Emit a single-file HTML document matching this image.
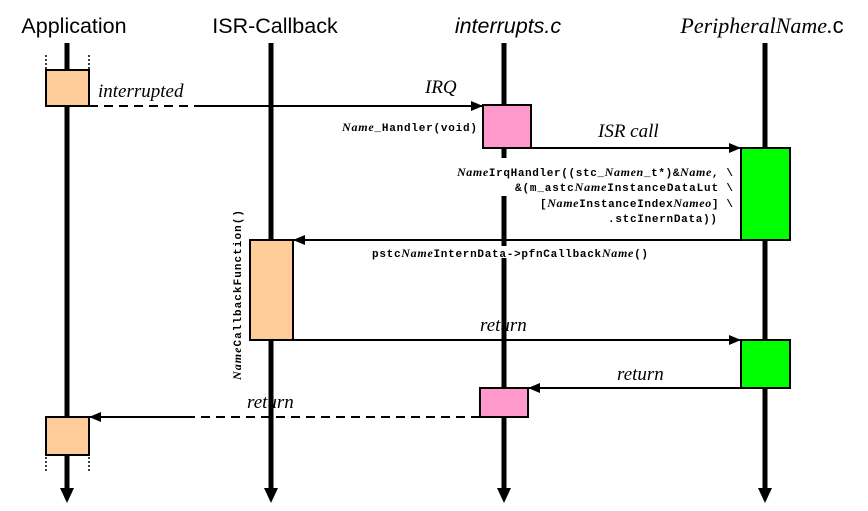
<!DOCTYPE html>
<html><head><meta charset="utf-8"><style>
html,body{margin:0;padding:0;background:#fff;}
svg{display:block;}
.t{font-family:"Liberation Sans",sans-serif;font-size:21.5px;}
.s{font-family:"Liberation Serif",serif;font-style:italic;font-size:19px;}
.m{font-family:"Liberation Mono",monospace;font-weight:bold;font-size:11px;}
.mi{font-family:"Liberation Serif",serif;font-style:italic;font-weight:bold;font-size:12px;}
</style></head><body>
<svg width="868" height="511" viewBox="0 0 868 511" xmlns="http://www.w3.org/2000/svg">
<defs>
<marker id="a" markerWidth="12" markerHeight="10" refX="12" refY="5" orient="auto" markerUnits="userSpaceOnUse"><path d="M0,0 L12,5 L0,10 Z" fill="#000"/></marker>
</defs>
<text class="t" x="74" y="33" text-anchor="middle">Application</text>
<text class="t" x="275" y="33" text-anchor="middle">ISR-Callback</text>
<text class="t" x="508" y="33" text-anchor="middle" font-style="italic">interrupts.c</text>
<text x="762" y="33" text-anchor="middle" font-size="22"><tspan font-family="Liberation Serif, serif" font-style="italic">PeripheralName.</tspan><tspan font-family="Liberation Sans, sans-serif">c</tspan></text>
<g stroke="#000" stroke-width="5" fill="none">
<line x1="67" y1="43" x2="67" y2="492"/>
<line x1="271" y1="43" x2="271" y2="492"/>
<line x1="504" y1="43" x2="504" y2="492"/>
<line x1="765" y1="43" x2="765" y2="492"/>
</g>
<g fill="#000">
<path d="M60,488 L74,488 L67,503 Z"/>
<path d="M264,488 L278,488 L271,503 Z"/>
<path d="M497,488 L511,488 L504,503 Z"/>
<path d="M758,488 L772,488 L765,503 Z"/>
</g>
<g stroke="#000" stroke-width="1.5" stroke-dasharray="2,2">
<line x1="46" y1="55" x2="46" y2="69"/><line x1="89" y1="55" x2="89" y2="69"/>
<line x1="46" y1="457" x2="46" y2="471"/><line x1="89" y1="457" x2="89" y2="471"/>
</g>
<g stroke="#000" stroke-width="2" fill="none">
<line x1="89" y1="106" x2="200" y2="106" stroke-dasharray="9,6"/>
<line x1="200" y1="106" x2="483" y2="106" marker-end="url(#a)"/>
<line x1="531" y1="148" x2="741" y2="148" marker-end="url(#a)"/>
<line x1="741" y1="240" x2="293" y2="240" marker-end="url(#a)"/>
<line x1="293" y1="340" x2="741" y2="340" marker-end="url(#a)"/>
<line x1="741" y1="388" x2="528" y2="388" marker-end="url(#a)"/>
<line x1="480" y1="417" x2="190" y2="417" stroke-dasharray="9,6"/>
<line x1="190" y1="417" x2="89" y2="417" marker-end="url(#a)"/>
</g>
<rect x="496" y="158" width="14" height="38" fill="#fff"/>
<rect x="496" y="246" width="14" height="12" fill="#fff"/>
<g stroke="#000" stroke-width="2">
<rect x="46" y="70" width="43" height="36" fill="#ffcc99"/>
<rect x="46" y="417" width="43" height="38" fill="#ffcc99"/>
<rect x="483" y="105" width="48" height="43" fill="#ff99cc"/>
<rect x="480" y="388" width="48" height="29" fill="#ff99cc"/>
<rect x="741" y="148" width="49" height="92" fill="#00ff00"/>
<rect x="741" y="340" width="49" height="48" fill="#00ff00"/>
<rect x="250" y="240" width="43" height="100" fill="#ffcc99"/>
</g>
<text class="s" x="98" y="97">interrupted</text>
<text class="s" x="425" y="93">IRQ</text>
<text class="s" x="598" y="137">ISR call</text>
<text class="s" x="480" y="331">return</text>
<text class="s" x="617" y="380">return</text>
<text class="s" x="247" y="408">return</text>
<text class="m" x="342" y="131" textLength="135"><tspan class="mi">Name</tspan>_Handler(void)</text>
<g class="m">
<text x="457" y="176" textLength="276"><tspan class="mi">Name</tspan>IrqHandler((stc_<tspan class="mi">Namen</tspan>_t*)&amp;<tspan class="mi">Name</tspan>, \</text>
<text x="515" y="191" textLength="218">&amp;(m_astc<tspan class="mi">Name</tspan>InstanceDataLut \</text>
<text x="540" y="207" textLength="193">[<tspan class="mi">Name</tspan>InstanceIndex<tspan class="mi">Nameo</tspan>] \</text>
<text x="608" y="222" textLength="109">.stcInernData))</text>
</g>
<text class="m" x="372" y="257" textLength="276"><tspan>pstc</tspan><tspan class="mi">Name</tspan>InternData-&gt;pfnCallback<tspan class="mi">Name</tspan>()</text>
<text class="m" transform="translate(241,380) rotate(-90)" textLength="170"><tspan class="mi">Name</tspan>CallbackFunction()</text>
</svg>
</body></html>
